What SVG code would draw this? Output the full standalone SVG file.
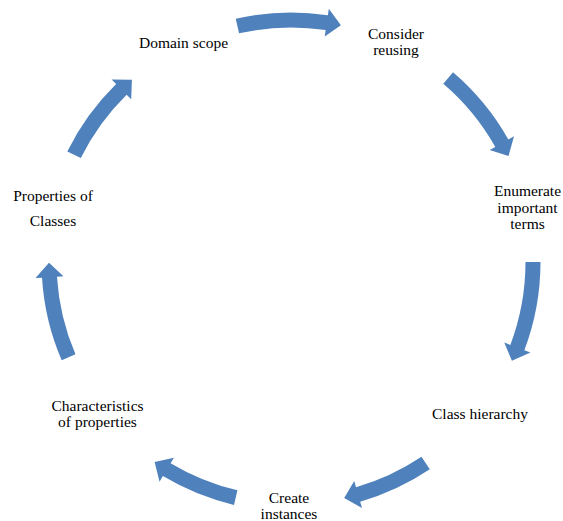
<svg xmlns="http://www.w3.org/2000/svg" width="563" height="521" viewBox="0 0 563 521">
<style>
.arr{fill:#4F81BD;stroke:none}
.lbl{font-family:"Liberation Serif","Times New Roman",serif;font-size:15.5px;fill:#000;text-anchor:middle}
</style>
<rect width="563" height="521" fill="#fff"/>
<g id="connectors">
<path class="arr" d="M235.73,18.71 A249.5,249.5 0 0 1 327.88,15.24 L328.84,8.82 L340.90,25.20 L324.70,36.51 L325.66,30.08 A234.5,234.5 0 0 0 239.06,33.34 Z"/>
<path class="arr" d="M453.03,72.28 A249.5,249.5 0 0 1 508.36,139.52 L514.03,136.33 L508.51,155.91 L489.63,150.07 L495.30,146.88 A234.5,234.5 0 0 0 443.28,83.69 Z"/>
<path class="arr" d="M540.5,262 A249.5,249.5 0 0 1 524.38,350.20 L530.46,352.50 L511.90,360.81 L504.27,342.60 L510.35,344.90 A234.5,234.5 0 0 0 525.5,262 Z"/>
<path class="arr" d="M429.80,469.33 A249.5,249.5 0 0 1 360.19,501.72 L361.99,507.96 L344.19,498.07 L354.22,481.06 L356.03,487.31 A234.5,234.5 0 0 0 421.45,456.87 Z"/>
<path class="arr" d="M234.01,504.91 A249.5,249.5 0 0 1 162.88,476.10 L159.54,481.67 L154.63,461.92 L173.92,457.65 L170.58,463.22 A234.5,234.5 0 0 0 237.44,490.31 Z"/>
<path class="arr" d="M61.68,360.28 A249.5,249.5 0 0 1 42.00,277.67 L35.51,278.08 L49.0,262.85 L63.46,276.32 L56.97,276.73 A234.5,234.5 0 0 0 75.47,354.37 Z"/>
<path class="arr" d="M67.32,151.45 A249.5,249.5 0 0 1 116.13,84.03 L111.57,79.40 L131.91,79.63 L131.19,99.37 L126.64,94.73 A234.5,234.5 0 0 0 80.77,158.09 Z"/>
</g>
<g id="domain-scope"><text class="lbl" x="183.5" y="48">Domain scope</text></g>
<g id="consider-reusing"><text class="lbl" x="396" y="39">Consider</text><text class="lbl" x="396" y="55">reusing</text></g>
<g id="enumerate-terms"><text class="lbl" x="527.5" y="196">Enumerate</text><text class="lbl" x="527.5" y="212.5">important</text><text class="lbl" x="527.5" y="229">terms</text></g>
<g id="class-hierarchy"><text class="lbl" x="480" y="419">Class hierarchy</text></g>
<g id="create-instances"><text class="lbl" x="289" y="503">Create</text><text class="lbl" x="289" y="519">instances</text></g>
<g id="characteristics"><text class="lbl" x="97.5" y="411">Characteristics</text><text class="lbl" x="97.5" y="427">of properties</text></g>
<g id="properties-of-classes"><text class="lbl" x="53" y="201">Properties of</text><text class="lbl" x="53" y="226">Classes</text></g>
</svg>
